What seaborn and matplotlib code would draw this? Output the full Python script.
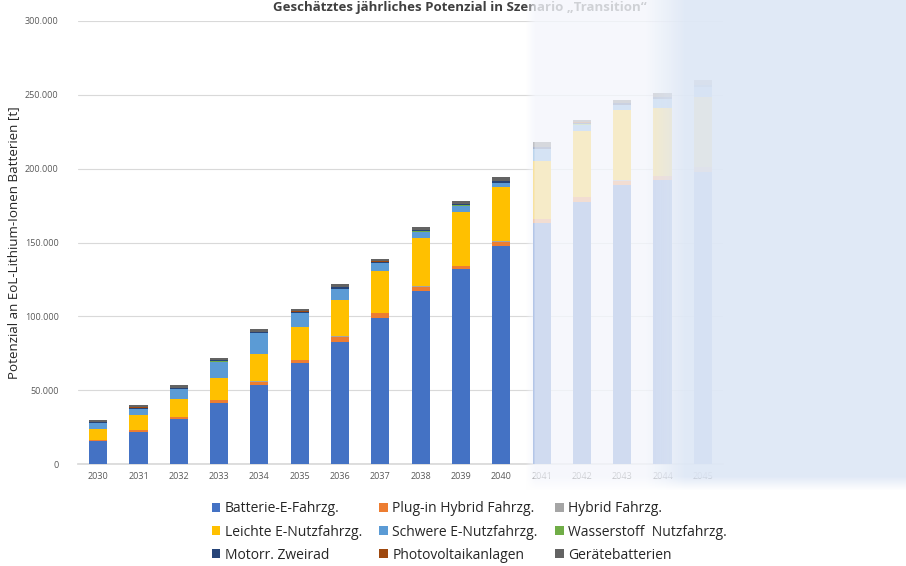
import numpy as np
import pandas as pd
import matplotlib
matplotlib.use("Agg")
import matplotlib.pyplot as plt
from matplotlib.patches import Patch
import seaborn as sns

years = [str(y) for y in range(2030, 2046)]

batterie = [15300, 21900, 30500, 41100, 53500, 68200, 82800, 98600, 117100, 131800, 147600,
            163000, 177600, 188900, 192000, 198000]
plugin = [900, 1000, 1500, 2200, 2300, 2300, 3400, 3400, 3000, 2300, 2900,
          3000, 3000, 3000, 3000, 3000]
hybrid = [100, 100, 150, 150, 200, 200, 200, 200, 200, 200, 200,
          200, 200, 200, 200, 200]
leichte = [7700, 10000, 12000, 14700, 18700, 22100, 24800, 28200, 32500, 36400, 37200,
           39000, 45000, 47500, 46000, 47000]
schwere = [3600, 4400, 6400, 11100, 13800, 9300, 7200, 5500, 4500, 4300, 2500,
           8000, 4000, 3500, 6000, 7000]
wasserstoff = [100, 100, 100, 200, 200, 200, 200, 200, 200, 200, 200,
               200, 200, 200, 200, 200]
motorr = [600, 700, 800, 800, 900, 900, 1000, 1000, 1000, 1000, 1200,
          1200, 1200, 1200, 1200, 1200]
photovoltaik = [100, 100, 100, 100, 100, 100, 100, 100, 100, 100, 100,
                100, 100, 100, 100, 100]
geraete = [1600, 1900, 2200, 1400, 1700, 1700, 2000, 1700, 1600, 1500, 2600,
           3500, 1400, 2000, 2500, 3300]

series_names = ["Batterie-E-Fahrzg.", "Plug-in Hybrid Fahrzg.", "Hybrid Fahrzg.",
                "Leichte E-Nutzfahrzg.", "Schwere E-Nutzfahrzg.", "Wasserstoff  Nutzfahrzg.",
                "Motorr. Zweirad", "Photovoltaikanlagen", "Gerätebatterien"]
series_vals = [batterie, plugin, hybrid, leichte, schwere, wasserstoff, motorr, photovoltaik, geraete]
colors = ["#4472C4", "#ED7D31", "#A5A5A5", "#FFC000", "#5B9BD5", "#70AD47",
          "#264478", "#9E480E", "#636363"]

ytick_vals = [0, 50000, 100000, 150000, 200000, 250000, 300000]
ytick_labels = ["0", "50.000", "100.000", "150.000", "200.000", "250.000", "300.000"]

sns.set_theme(style="white")
plt.rcParams['font.family'] = ['Open Sans', 'DejaVu Sans']

fig = plt.figure(figsize=(9.06, 5.66), dpi=100)
ax = fig.add_axes([78/906, 1-464/566, (723-78)/906, (464-21)/566])

df = pd.DataFrame({n: v for n, v in zip(series_names, series_vals)})
df["Jahr"] = years
cum = df[series_names].cumsum(axis=1)

# draw cumulative totals from top series down so shorter ones overlay
for name, col in reversed(list(zip(series_names, colors))):
    sns.barplot(x=df["Jahr"], y=cum[name], color=col, width=0.45, ax=ax,
                saturation=1, edgecolor="none", linewidth=0, zorder=3)

ax.set_ylim(0, 300000)
ax.set_xlim(-0.5, len(years) - 0.5)
ax.set_yticks(ytick_vals)
ax.set_yticklabels(ytick_labels, fontsize=6.5, color="#595959")
ax.tick_params(axis="x", labelsize=6.5, colors="#595959", length=0, pad=6)
ax.tick_params(axis="y", length=0, pad=14)
ax.yaxis.grid(True, color="#d9d9d9", linewidth=0.8, zorder=0)
ax.set_axisbelow(True)
for s in ["top", "right", "left"]:
    ax.spines[s].set_visible(False)
ax.spines["bottom"].set_color("#d9d9d9")
ax.set_xlabel("")
ax.set_ylabel("Potenzial an EoL-Lithium-Ionen Batterien [t]", fontsize=9.6, color="#262626", labelpad=3)

# legend (row-wise order in 3 columns)
handles = [Patch(facecolor=c, edgecolor="none") for c in colors]
order = [0, 3, 6, 1, 4, 7, 2, 5, 8]
fig.legend([handles[i] for i in order], [series_names[i] for i in order],
           loc="upper left", bbox_to_anchor=(199/906, 1-489/566), ncol=3,
           frameon=False, fontsize=10, handlelength=0.6, handleheight=0.6,
           handletextpad=0.35, columnspacing=1.25, labelspacing=0.58)

# faded overlay (soft gradient) on the right part of the picture
W, H = 381, 490
xs = np.arange(W)[None, :].repeat(H, 0).astype(float)
ys = np.arange(H)[:, None].repeat(W, 1).astype(float)
t = np.clip((xs - 120) / 40.0, 0, 1)
c_left = np.array([0.958, 0.965, 0.990])
c_right = np.array([0.875, 0.912, 0.965])
rgb = c_left[None, None, :] * (1 - t[..., None]) + c_right[None, None, :] * t[..., None]
alpha = 0.80 * (1 - t) + 0.95 * t
fade_left = np.clip(xs / 10.0, 0, 1)
fade_bottom = np.clip((H - ys) / 14.0, 0, 1)
alpha = alpha * fade_left * fade_bottom
img = np.dstack([rgb, alpha])
ov = fig.add_axes([525/906, 1-490/566, W/906, H/566], zorder=10)
ov.imshow(img, aspect="auto", interpolation="bilinear")
ov.set_axis_off()

# title at top
fig.text(460/906, 1-1/566, "Geschätztes jährliches Potenzial in Szenario „Transition“",
         ha="center", va="top", fontsize=9.5, fontweight="bold", color="#404040")

fig.savefig("out.png", dpi=100, facecolor="white")
